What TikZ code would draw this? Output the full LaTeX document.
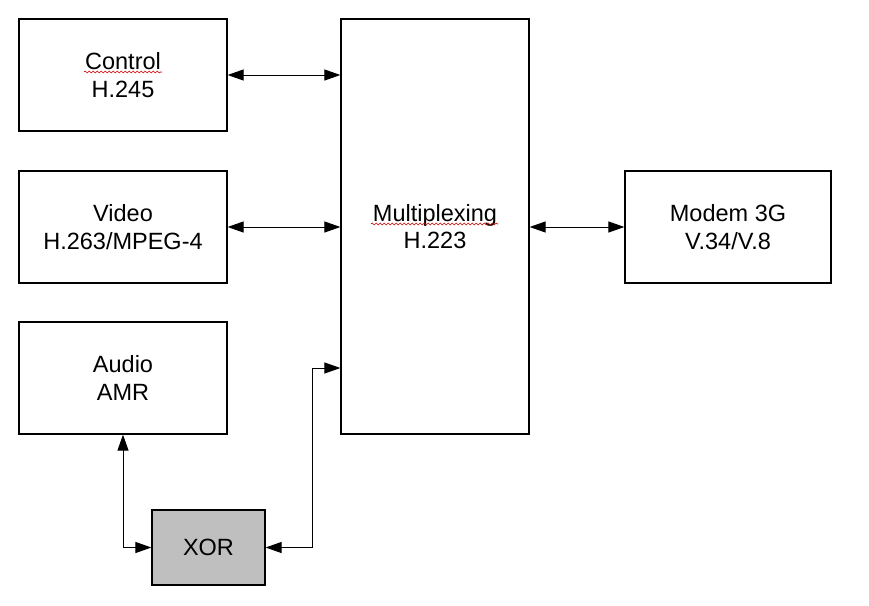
\documentclass[tikz,border=0pt]{standalone}
\usepackage{fontspec}
\setmainfont{Liberation Sans}
\usetikzlibrary{arrows.meta, positioning, calc, decorations.pathmorphing}

\begin{document}
\begin{tikzpicture}[
    x=1pt, y=-1pt,
    >={Triangle[length=16pt, width=11pt]},
    font=\fontsize{23.5}{27.5}\selectfont,
    block/.style={draw, line width=1.2pt, align=center, inner sep=0pt},
    unit/.style={block, minimum width=208pt, minimum height=112pt},
    link/.style={<->, line width=1pt},
    spell mark/.style={red!80!black, line width=0.6pt,
        decorate, decoration={snake, amplitude=1pt, segment length=4pt}}
]
    \useasboundingbox (0,0) rectangle (869,605);

    % Left column
    \node[unit] (control) at (123,75)  {Control\\H.245};
    \node[unit] (video)   at (123,227) {Video\\H.263/MPEG-4};
    \node[unit] (audio)   at (123,378) {Audio\\AMR};

    % Multiplexer and modem
    \node[block, minimum width=188pt, minimum height=415pt] (mux) at (435,226.5) {Multiplexing\\H.223};
    \node[block, minimum width=206pt, minimum height=112pt] (modem) at (728,227) {Modem 3G\\V.34/V.8};

    % XOR block
    \node[block, fill=gray!50, minimum width=113pt, minimum height=75pt] (xor) at (208.5,547.5) {XOR};

    % Connections
    \draw[link] (control.east) -- (control.east -| mux.west);
    \draw[link] (video.east) -- (video.east -| mux.west);
    \draw[link] (mux.east |- modem.west) -- (modem.west);
    \draw[link] (audio.south) |- (xor.west);
    \coordinate (bend) at (312,368);
    \draw[link] (xor.east) -| (bend) -- (bend -| mux.west);

    % Spell check marks
    \draw[spell mark] (84,72) -- (162,72);
    \draw[spell mark] (371,224) -- (498,224);

\end{tikzpicture}
\end{document}
